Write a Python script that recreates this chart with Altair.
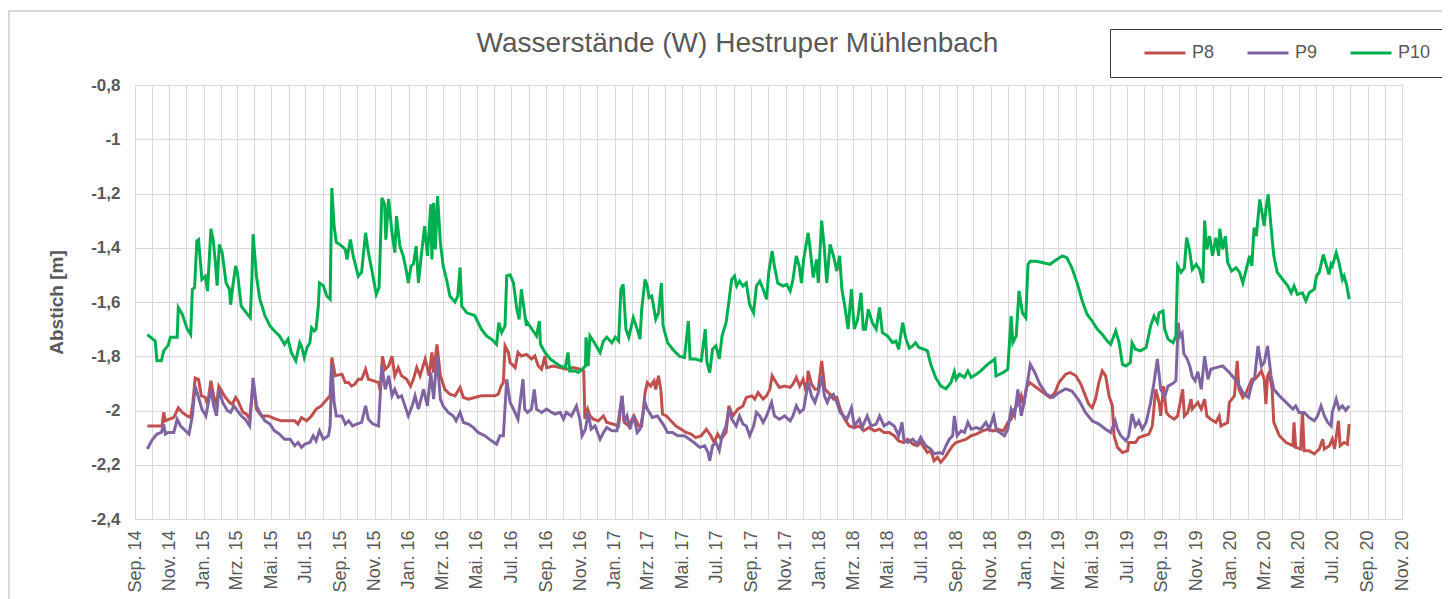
import altair as alt
import pandas as pd

FONT = "Liberation Sans"
GREY = "#595959"
GRID = "#D9D9D9"

series_names = ["P8", "P9", "P10"]
series_colors = ["#C0504D", "#8064A2", "#00B050"]

p8_dates = [
    "2014-09-23", "2014-10-19", "2014-10-22", "2014-10-25", "2014-11-03", "2014-11-09", "2014-11-17", "2014-11-24",
    "2014-12-03", "2014-12-09", "2014-12-13", "2014-12-17", "2014-12-23", "2014-12-28", "2015-01-04", "2015-01-08",
    "2015-01-14", "2015-01-19", "2015-01-24", "2015-01-28", "2015-02-07", "2015-02-16", "2015-02-21", "2015-02-27",
    "2015-03-03", "2015-03-12", "2015-03-18", "2015-03-24", "2015-03-30", "2015-04-05", "2015-04-14", "2015-04-26",
    "2015-05-07", "2015-05-19", "2015-05-31", "2015-06-12", "2015-06-18", "2015-06-24", "2015-07-03", "2015-07-12",
    "2015-07-20", "2015-07-29", "2015-08-11", "2015-08-14", "2015-08-17", "2015-08-23", "2015-09-04", "2015-09-10",
    "2015-09-16", "2015-09-21", "2015-09-27", "2015-10-03", "2015-10-09", "2015-10-16", "2015-10-21", "2015-10-29",
    "2015-11-08", "2015-11-11", "2015-11-15", "2015-11-20", "2015-11-26", "2015-12-02", "2015-12-07", "2015-12-13",
    "2015-12-19", "2015-12-28", "2016-01-04", "2016-01-09", "2016-01-15", "2016-01-21", "2016-01-30", "2016-02-06",
    "2016-02-11", "2016-02-14", "2016-02-20", "2016-02-26", "2016-03-05", "2016-03-14", "2016-03-23", "2016-04-01",
    "2016-04-07", "2016-04-16", "2016-04-27", "2016-05-09", "2016-05-21", "2016-06-02", "2016-06-08", "2016-06-13",
    "2016-06-17", "2016-06-20", "2016-06-26", "2016-06-29", "2016-07-08", "2016-07-13", "2016-07-19", "2016-07-28",
    "2016-08-06", "2016-08-12", "2016-08-18", "2016-08-24", "2016-08-30", "2016-09-02", "2016-09-14", "2016-09-26",
    "2016-10-07", "2016-10-19", "2016-10-31", "2016-11-07", "2016-11-09", "2016-11-14", "2016-11-18", "2016-11-24",
    "2016-12-03", "2016-12-12", "2016-12-18", "2016-12-29", "2017-01-08", "2017-01-14", "2017-01-18", "2017-01-26",
    "2017-02-04", "2017-02-13", "2017-02-18", "2017-02-24", "2017-02-28", "2017-03-06", "2017-03-12", "2017-03-15",
    "2017-03-20", "2017-03-24", "2017-03-27", "2017-04-03", "2017-04-11", "2017-04-20", "2017-04-29", "2017-05-08",
    "2017-05-17", "2017-05-25", "2017-06-04", "2017-06-13", "2017-06-21", "2017-06-27", "2017-07-03", "2017-07-09",
    "2017-07-18", "2017-07-23", "2017-07-30", "2017-08-08", "2017-08-17", "2017-08-23", "2017-09-02", "2017-09-07",
    "2017-09-13", "2017-09-22", "2017-09-28", "2017-10-04", "2017-10-08", "2017-10-15", "2017-10-21", "2017-10-30",
    "2017-11-09", "2017-11-14", "2017-11-20", "2017-11-26", "2017-12-02", "2017-12-08", "2017-12-11", "2017-12-17",
    "2017-12-23", "2017-12-29", "2018-01-04", "2018-01-10", "2018-01-16", "2018-01-25", "2018-01-31", "2018-02-06",
    "2018-02-14", "2018-02-22", "2018-03-03", "2018-03-12", "2018-03-20", "2018-03-29", "2018-04-08", "2018-04-17",
    "2018-04-25", "2018-05-04", "2018-05-13", "2018-05-21", "2018-05-30", "2018-06-06", "2018-06-15", "2018-06-23",
    "2018-06-29", "2018-07-05", "2018-07-11", "2018-07-17", "2018-07-23", "2018-07-29", "2018-08-04", "2018-08-13",
    "2018-08-19", "2018-08-25", "2018-08-31", "2018-09-09", "2018-09-18", "2018-09-27", "2018-10-06", "2018-10-17",
    "2018-10-26", "2018-11-05", "2018-11-14", "2018-11-23", "2018-11-28", "2018-12-01", "2018-12-07", "2018-12-13",
    "2018-12-21", "2018-12-25", "2018-12-29", "2019-01-03", "2019-01-09", "2019-01-21", "2019-02-02", "2019-02-14",
    "2019-02-23", "2019-03-02", "2019-03-14", "2019-03-22", "2019-04-01", "2019-04-10", "2019-04-18", "2019-04-24",
    "2019-04-30", "2019-05-06", "2019-05-12", "2019-05-18", "2019-05-24", "2019-05-30", "2019-06-05", "2019-06-08",
    "2019-06-14", "2019-06-23", "2019-07-02", "2019-07-04", "2019-07-16", "2019-07-22", "2019-07-31", "2019-08-09",
    "2019-08-15", "2019-08-21", "2019-08-27", "2019-08-30", "2019-09-04", "2019-09-09", "2019-09-14", "2019-09-23",
    "2019-09-29", "2019-10-08", "2019-10-11", "2019-10-17", "2019-10-23", "2019-10-25", "2019-11-04", "2019-11-10",
    "2019-11-16", "2019-11-20", "2019-11-27", "2019-12-06", "2019-12-12", "2019-12-15", "2019-12-27", "2019-12-30",
    "2020-01-08", "2020-01-13", "2020-01-16", "2020-01-23", "2020-01-29", "2020-02-08", "2020-02-13", "2020-02-19",
    "2020-02-25", "2020-03-01", "2020-03-04", "2020-03-07", "2020-03-10", "2020-03-15", "2020-03-18", "2020-03-28",
    "2020-04-09", "2020-04-21", "2020-04-23", "2020-04-26", "2020-05-05", "2020-05-08", "2020-05-11", "2020-05-20",
    "2020-05-29", "2020-06-07", "2020-06-13", "2020-06-16", "2020-06-25", "2020-06-30", "2020-07-04", "2020-07-11",
    "2020-07-14", "2020-07-21", "2020-07-27", "2020-07-30",
]
p8_values = [
    -2.057, -2.057, -2.007, -2.038, -2.030, -2.026, -1.990, -2.007,
    -2.020, -2.026, -1.970, -1.880, -1.886, -1.946, -1.952, -1.977,
    -1.890, -1.946, -1.983, -1.910, -1.946, -1.970, -1.977, -1.952,
    -1.964, -2.007, -2.013, -2.032, -1.900, -1.995, -2.020, -2.020,
    -2.030, -2.038, -2.038, -2.038, -2.050, -2.026, -2.038, -2.020,
    -1.995, -1.983, -1.952, -1.946, -1.805, -1.872, -1.866, -1.897,
    -1.897, -1.910, -1.903, -1.885, -1.885, -1.848, -1.885, -1.890,
    -1.897, -1.928, -1.800, -1.848, -1.836, -1.800, -1.872, -1.842,
    -1.872, -1.885, -1.910, -1.885, -1.842, -1.872, -1.810, -1.872,
    -1.786, -1.860, -1.756, -1.872, -1.922, -1.940, -1.946, -1.915,
    -1.952, -1.958, -1.952, -1.946, -1.946, -1.946, -1.940, -1.910,
    -1.897, -1.762, -1.786, -1.823, -1.842, -1.786, -1.799, -1.793,
    -1.810, -1.799, -1.835, -1.848, -1.799, -1.842, -1.836, -1.842,
    -1.848, -1.842, -1.848, -1.854, -2.030, -1.995, -2.020, -2.032,
    -2.038, -2.020, -2.044, -2.050, -2.057, -1.946, -2.044, -2.057,
    -2.020, -2.057, -2.057, -1.934, -1.897, -1.910, -1.891, -1.922,
    -1.872, -1.922, -2.013, -2.020, -2.038, -2.057, -2.069, -2.081,
    -2.087, -2.100, -2.093, -2.069, -2.093, -2.118, -2.087, -2.106,
    -2.081, -1.983, -2.020, -1.995, -1.983, -1.952, -1.946, -1.958,
    -1.934, -1.958, -1.946, -1.922, -1.872, -1.897, -1.915, -1.910,
    -1.915, -1.903, -1.878, -1.910, -1.885, -1.934, -1.854, -1.903,
    -1.922, -1.922, -1.817, -1.922, -1.934, -1.958, -1.952, -1.995,
    -2.032, -2.057, -2.063, -2.057, -2.075, -2.063, -2.075, -2.069,
    -2.081, -2.081, -2.093, -2.112, -2.118, -2.106, -2.124, -2.130,
    -2.118, -2.136, -2.155, -2.148, -2.185, -2.173, -2.191, -2.167,
    -2.148, -2.130, -2.118, -2.112, -2.106, -2.093, -2.087, -2.075,
    -2.069, -2.075, -2.069, -2.075, -2.057, -2.044, -2.032, -1.995,
    -1.970, -1.946, -1.983, -1.915, -1.897, -1.915, -1.934, -1.952,
    -1.934, -1.897, -1.866, -1.860, -1.872, -1.903, -1.946, -1.977,
    -1.990, -1.958, -1.897, -1.854, -1.872, -1.946, -1.983, -2.093,
    -2.136, -2.155, -2.148, -2.118, -2.118, -2.100, -2.093, -2.087,
    -2.057, -1.922, -1.970, -2.020, -1.910, -2.007, -2.020, -2.032,
    -2.020, -1.922, -2.020, -2.007, -1.958, -1.995, -1.970, -1.995,
    -1.958, -2.020, -2.032, -2.044, -2.020, -2.057, -2.044, -1.970,
    -1.946, -1.817, -1.922, -1.952, -1.934, -1.885, -1.885, -1.872,
    -1.854, -1.885, -1.977, -1.872, -1.860, -1.922, -2.044, -2.093,
    -2.118, -2.130, -2.044, -2.136, -2.142, -2.007, -2.148, -2.148,
    -2.160, -2.142, -2.106, -2.142, -2.130, -2.106, -2.142, -2.038,
    -2.130, -2.118, -2.124, -2.050,
]

p9_dates = [
    "2014-09-23", "2014-10-01", "2014-10-10", "2014-10-18", "2014-10-22", "2014-10-25", "2014-10-30", "2014-11-09",
    "2014-11-15", "2014-11-21", "2014-11-30", "2014-12-06", "2014-12-12", "2014-12-17", "2014-12-23", "2014-12-29",
    "2015-01-05", "2015-01-14", "2015-01-19", "2015-01-24", "2015-01-28", "2015-02-04", "2015-02-12", "2015-02-18",
    "2015-02-24", "2015-02-28", "2015-03-09", "2015-03-16", "2015-03-24", "2015-03-30", "2015-04-05", "2015-04-11",
    "2015-04-20", "2015-04-29", "2015-05-07", "2015-05-16", "2015-05-25", "2015-06-04", "2015-06-12", "2015-06-18",
    "2015-06-24", "2015-06-30", "2015-07-09", "2015-07-15", "2015-07-20", "2015-07-26", "2015-08-02", "2015-08-11",
    "2015-08-14", "2015-08-17", "2015-08-21", "2015-08-25", "2015-09-04", "2015-09-10", "2015-09-16", "2015-09-23",
    "2015-09-30", "2015-10-09", "2015-10-16", "2015-10-21", "2015-10-29", "2015-11-08", "2015-11-14", "2015-11-20",
    "2015-11-26", "2015-12-02", "2015-12-07", "2015-12-13", "2015-12-19", "2015-12-25", "2015-12-31", "2016-01-07",
    "2016-01-12", "2016-01-18", "2016-01-27", "2016-02-03", "2016-02-09", "2016-02-14", "2016-02-20", "2016-02-26",
    "2016-03-02", "2016-03-11", "2016-03-20", "2016-03-25", "2016-04-01", "2016-04-07", "2016-04-16", "2016-04-25",
    "2016-05-03", "2016-05-15", "2016-05-27", "2016-06-05", "2016-06-11", "2016-06-17", "2016-06-23", "2016-06-29",
    "2016-07-05", "2016-07-13", "2016-07-22", "2016-07-25", "2016-07-30", "2016-08-06", "2016-08-11", "2016-08-15",
    "2016-08-24", "2016-09-02", "2016-09-11", "2016-09-17", "2016-09-26", "2016-10-02", "2016-10-07", "2016-10-16",
    "2016-10-25", "2016-10-31", "2016-11-04", "2016-11-10", "2016-11-15", "2016-11-20", "2016-11-27", "2016-12-06",
    "2016-12-12", "2016-12-18", "2016-12-27", "2017-01-05", "2017-01-14", "2017-01-18", "2017-01-23", "2017-01-28",
    "2017-02-04", "2017-02-10", "2017-02-15", "2017-02-24", "2017-02-28", "2017-03-09", "2017-03-18", "2017-03-24",
    "2017-03-30", "2017-04-05", "2017-04-14", "2017-04-23", "2017-05-05", "2017-05-14", "2017-05-22", "2017-06-01",
    "2017-06-10", "2017-06-16", "2017-06-19", "2017-06-24", "2017-06-30", "2017-07-06", "2017-07-11", "2017-07-18",
    "2017-07-23", "2017-07-28", "2017-08-05", "2017-08-11", "2017-08-17", "2017-08-23", "2017-08-29", "2017-09-05",
    "2017-09-10", "2017-09-16", "2017-09-22", "2017-09-28", "2017-10-07", "2017-10-12", "2017-10-21", "2017-10-30",
    "2017-11-09", "2017-11-14", "2017-11-20", "2017-11-26", "2017-12-03", "2017-12-11", "2017-12-17", "2017-12-23",
    "2017-12-29", "2018-01-04", "2018-01-09", "2018-01-14", "2018-01-19", "2018-01-25", "2018-01-31", "2018-02-06",
    "2018-02-12", "2018-02-18", "2018-02-26", "2018-03-03", "2018-03-12", "2018-03-17", "2018-03-26", "2018-04-02",
    "2018-04-11", "2018-04-17", "2018-04-25", "2018-05-04", "2018-05-13", "2018-05-21", "2018-05-27", "2018-05-30",
    "2018-06-06", "2018-06-15", "2018-06-23", "2018-06-29", "2018-07-08", "2018-07-17", "2018-07-23", "2018-08-01",
    "2018-08-07", "2018-08-13", "2018-08-19", "2018-08-25", "2018-08-28", "2018-09-02", "2018-09-09", "2018-09-15",
    "2018-09-21", "2018-09-27", "2018-10-06", "2018-10-14", "2018-10-23", "2018-10-29", "2018-11-06", "2018-11-11",
    "2018-11-17", "2018-11-25", "2018-12-01", "2018-12-07", "2018-12-13", "2018-12-19", "2018-12-25", "2018-12-30",
    "2019-01-05", "2019-01-10", "2019-01-18", "2019-01-27", "2019-02-08", "2019-02-19", "2019-03-02", "2019-03-14",
    "2019-03-25", "2019-04-07", "2019-04-18", "2019-04-30", "2019-05-12", "2019-05-24", "2019-06-02", "2019-06-10",
    "2019-06-14", "2019-06-20", "2019-06-29", "2019-07-04", "2019-07-10", "2019-07-16", "2019-07-22", "2019-07-28",
    "2019-08-04", "2019-08-12", "2019-08-18", "2019-08-24", "2019-08-30", "2019-09-06", "2019-09-12", "2019-09-21",
    "2019-09-26", "2019-09-30", "2019-10-03", "2019-10-07", "2019-10-10", "2019-10-16", "2019-10-21", "2019-10-25",
    "2019-10-30", "2019-11-04", "2019-11-10", "2019-11-16", "2019-11-22", "2019-11-27", "2019-12-06", "2019-12-18",
    "2019-12-30", "2020-01-11", "2020-01-23", "2020-02-02", "2020-02-08", "2020-02-13", "2020-02-19", "2020-02-25",
    "2020-03-01", "2020-03-07", "2020-03-13", "2020-03-18", "2020-03-28", "2020-04-09", "2020-04-21", "2020-04-26",
    "2020-05-02", "2020-05-11", "2020-05-20", "2020-05-29", "2020-06-04", "2020-06-10", "2020-06-16", "2020-06-22",
    "2020-06-28", "2020-06-30", "2020-07-07", "2020-07-12", "2020-07-18", "2020-07-24", "2020-07-30",
]
p9_values = [
    -2.142, -2.110, -2.087, -2.081, -2.050, -2.087, -2.081, -2.081,
    -2.032, -2.057, -2.075, -2.087, -2.020, -1.910, -1.952, -1.995,
    -2.020, -1.922, -1.983, -2.020, -1.922, -1.970, -2.000, -2.007,
    -1.983, -1.995, -2.020, -2.032, -2.057, -1.880, -1.983, -2.007,
    -2.038, -2.050, -2.075, -2.087, -2.106, -2.106, -2.130, -2.118,
    -2.136, -2.124, -2.118, -2.093, -2.112, -2.075, -2.106, -2.093,
    -2.057, -1.830, -1.970, -2.020, -2.020, -2.050, -2.038, -2.057,
    -2.050, -2.044, -1.983, -2.032, -2.050, -2.057, -1.835, -1.922,
    -1.872, -1.946, -1.922, -1.952, -1.946, -1.983, -2.020, -1.983,
    -1.946, -1.995, -1.922, -1.983, -1.860, -1.958, -1.800, -1.958,
    -1.983, -2.007, -2.020, -2.038, -2.007, -2.044, -2.050, -2.063,
    -2.081, -2.093, -2.112, -2.124, -2.093, -2.093, -1.885, -1.970,
    -1.995, -2.032, -1.885, -1.995, -2.007, -1.995, -1.922, -1.995,
    -2.007, -1.995, -2.007, -2.013, -2.007, -2.032, -2.007, -2.020,
    -1.983, -2.032, -2.093, -2.069, -2.007, -2.069, -2.057, -2.106,
    -2.081, -2.063, -2.075, -2.075, -1.946, -2.044, -2.020, -2.069,
    -2.020, -2.081, -2.069, -1.970, -1.995, -2.026, -2.020, -2.038,
    -2.057, -2.081, -2.081, -2.093, -2.093, -2.106, -2.118, -2.136,
    -2.130, -2.155, -2.185, -2.130, -2.118, -2.148, -2.093, -2.057,
    -1.995, -2.032, -2.057, -2.020, -2.050, -2.057, -2.093, -2.057,
    -2.007, -2.020, -2.044, -2.020, -1.970, -2.020, -2.032, -2.020,
    -2.038, -2.020, -1.983, -2.007, -1.995, -1.897, -1.946, -1.970,
    -1.934, -1.872, -1.946, -1.970, -1.946, -1.940, -1.970, -2.007,
    -2.020, -2.032, -1.990, -2.057, -2.032, -2.063, -2.020, -2.057,
    -2.050, -2.020, -2.057, -2.044, -2.057, -2.093, -2.044, -2.106,
    -2.118, -2.106, -2.124, -2.099, -2.130, -2.142, -2.160, -2.155,
    -2.160, -2.130, -2.106, -2.093, -2.020, -2.093, -2.075, -2.081,
    -2.044, -2.069, -2.063, -2.069, -2.044, -2.069, -2.020, -2.075,
    -2.081, -2.093, -2.069, -1.995, -2.020, -1.922, -2.020, -1.970,
    -1.897, -1.830, -1.860, -1.903, -1.940, -1.952, -1.934, -1.920,
    -1.928, -1.964, -2.007, -2.038, -2.050, -2.069, -2.081, -2.038,
    -2.069, -2.093, -2.112, -2.093, -2.013, -2.057, -2.038, -2.069,
    -2.044, -1.970, -1.897, -1.810, -1.922, -1.950, -1.910, -1.900,
    -1.890, -1.677, -1.728, -1.715, -1.790, -1.810, -1.838, -1.875,
    -1.890, -1.857, -1.922, -1.800, -1.885, -1.848, -1.842, -1.836,
    -1.860, -1.890, -1.934, -1.952, -1.903, -1.878, -1.762, -1.836,
    -1.823, -1.762, -1.872, -1.922, -1.946, -1.970, -1.995, -1.983,
    -2.007, -2.007, -2.026, -2.038, -2.020, -1.983, -2.020, -2.044,
    -2.057, -2.007, -1.958, -1.995, -1.983, -2.000, -1.983,
]

p10_dates = [
    "2014-09-23", "2014-10-07", "2014-10-10", "2014-10-18", "2014-10-22", "2014-10-30", "2014-11-03", "2014-11-15",
    "2014-11-17", "2014-11-24", "2014-12-03", "2014-12-09", "2014-12-12", "2014-12-16", "2014-12-20", "2014-12-23",
    "2014-12-29", "2015-01-04", "2015-01-08", "2015-01-14", "2015-01-18", "2015-01-22", "2015-01-25", "2015-01-29",
    "2015-02-03", "2015-02-10", "2015-02-16", "2015-02-18", "2015-02-22", "2015-02-27", "2015-03-02", "2015-03-09",
    "2015-03-18", "2015-03-25", "2015-03-28", "2015-03-30", "2015-04-05", "2015-04-11", "2015-04-20", "2015-04-29",
    "2015-05-07", "2015-05-16", "2015-05-25", "2015-05-31", "2015-06-06", "2015-06-14", "2015-06-21", "2015-06-24",
    "2015-06-29", "2015-07-04", "2015-07-09", "2015-07-12", "2015-07-17", "2015-07-20", "2015-07-24", "2015-07-26",
    "2015-08-02", "2015-08-08", "2015-08-14", "2015-08-17", "2015-08-21", "2015-08-25", "2015-09-04", "2015-09-10",
    "2015-09-13", "2015-09-19", "2015-09-24", "2015-10-03", "2015-10-09", "2015-10-16", "2015-10-21", "2015-10-27",
    "2015-11-04", "2015-11-09", "2015-11-14", "2015-11-19", "2015-11-21", "2015-11-26", "2015-12-02", "2015-12-07",
    "2015-12-10", "2015-12-16", "2015-12-22", "2015-12-28", "2015-12-31", "2016-01-05", "2016-01-09", "2016-01-14",
    "2016-01-18", "2016-01-23", "2016-01-29", "2016-02-03", "2016-02-09", "2016-02-11", "2016-02-14", "2016-02-17",
    "2016-02-21", "2016-02-26", "2016-03-02", "2016-03-08", "2016-03-14", "2016-03-23", "2016-03-28", "2016-04-01",
    "2016-04-04", "2016-04-13", "2016-04-27", "2016-05-09", "2016-05-18", "2016-05-27", "2016-06-05", "2016-06-09",
    "2016-06-14", "2016-06-20", "2016-06-23", "2016-06-29", "2016-07-05", "2016-07-11", "2016-07-15", "2016-07-19",
    "2016-07-28", "2016-07-30", "2016-08-09", "2016-08-15", "2016-08-20", "2016-08-22", "2016-08-30", "2016-09-08",
    "2016-09-17", "2016-09-26", "2016-10-05", "2016-10-10", "2016-10-13", "2016-10-22", "2016-10-28", "2016-11-04",
    "2016-11-10", "2016-11-11", "2016-11-15", "2016-11-18", "2016-11-24", "2016-12-06", "2016-12-12", "2016-12-18",
    "2016-12-27", "2017-01-02", "2017-01-08", "2017-01-12", "2017-01-16", "2017-01-21", "2017-01-26", "2017-02-03",
    "2017-02-10", "2017-02-15", "2017-02-18", "2017-02-24", "2017-02-28", "2017-03-03", "2017-03-08", "2017-03-15",
    "2017-03-20", "2017-03-25", "2017-03-28", "2017-04-05", "2017-04-14", "2017-04-26", "2017-05-05", "2017-05-12",
    "2017-05-15", "2017-05-25", "2017-06-04", "2017-06-11", "2017-06-14", "2017-06-19", "2017-06-24", "2017-06-30",
    "2017-07-06", "2017-07-11", "2017-07-18", "2017-07-23", "2017-07-28", "2017-08-02", "2017-08-06", "2017-08-11",
    "2017-08-17", "2017-08-23", "2017-08-29", "2017-09-05", "2017-09-10", "2017-09-16", "2017-09-22", "2017-09-28",
    "2017-10-02", "2017-10-08", "2017-10-12", "2017-10-18", "2017-10-27", "2017-11-03", "2017-11-09", "2017-11-14",
    "2017-11-20", "2017-11-25", "2017-11-29", "2017-12-03", "2017-12-11", "2017-12-14", "2017-12-20", "2017-12-26",
    "2017-12-29", "2018-01-04", "2018-01-09", "2018-01-13", "2018-01-19", "2018-01-25", "2018-01-31", "2018-02-05",
    "2018-02-09", "2018-02-15", "2018-02-20", "2018-02-26", "2018-03-03", "2018-03-09", "2018-03-15", "2018-03-19",
    "2018-03-23", "2018-03-28", "2018-04-04", "2018-04-11", "2018-04-17", "2018-04-22", "2018-05-01", "2018-05-10",
    "2018-05-16", "2018-05-21", "2018-05-28", "2018-06-03", "2018-06-09", "2018-06-15", "2018-06-20", "2018-06-26",
    "2018-07-05", "2018-07-11", "2018-07-17", "2018-07-26", "2018-08-04", "2018-08-13", "2018-08-22", "2018-08-28",
    "2018-08-31", "2018-09-06", "2018-09-15", "2018-09-21", "2018-09-27", "2018-10-06", "2018-10-14", "2018-10-26",
    "2018-11-08", "2018-11-10", "2018-11-23", "2018-12-01", "2018-12-07", "2018-12-10", "2018-12-16", "2018-12-21",
    "2018-12-27", "2019-01-02", "2019-01-06", "2019-01-10", "2019-01-21", "2019-02-02", "2019-02-14", "2019-02-26",
    "2019-03-08", "2019-03-16", "2019-03-25", "2019-04-04", "2019-04-13", "2019-04-21", "2019-04-30", "2019-05-09",
    "2019-05-18", "2019-05-27", "2019-06-02", "2019-06-11", "2019-06-17", "2019-06-23", "2019-06-29", "2019-07-07",
    "2019-07-10", "2019-07-16", "2019-07-25", "2019-08-04", "2019-08-12", "2019-08-18", "2019-08-24", "2019-08-27",
    "2019-09-03", "2019-09-06", "2019-09-12", "2019-09-21", "2019-09-26", "2019-09-29", "2019-10-05", "2019-10-11",
    "2019-10-15", "2019-10-20", "2019-10-25", "2019-11-01", "2019-11-07", "2019-11-13", "2019-11-16", "2019-11-20",
    "2019-11-25", "2019-11-30", "2019-12-06", "2019-12-11", "2019-12-13", "2019-12-18", "2019-12-23", "2019-12-27",
    "2020-01-03", "2020-01-11", "2020-01-17", "2020-01-23", "2020-01-29", "2020-02-04", "2020-02-08", "2020-02-12",
    "2020-02-16", "2020-02-22", "2020-02-27", "2020-03-01", "2020-03-04", "2020-03-08", "2020-03-13", "2020-03-18",
    "2020-03-24", "2020-04-03", "2020-04-12", "2020-04-18", "2020-04-23", "2020-04-29", "2020-05-08", "2020-05-14",
    "2020-05-20", "2020-05-29", "2020-06-02", "2020-06-07", "2020-06-14", "2020-06-19", "2020-06-24", "2020-06-28",
    "2020-06-30", "2020-07-07", "2020-07-12", "2020-07-18", "2020-07-21", "2020-07-26", "2020-07-30",
]
p10_values = [
    -1.720, -1.744, -1.817, -1.817, -1.780, -1.760, -1.730, -1.730,
    -1.620, -1.645, -1.700, -1.720, -1.553, -1.547, -1.375, -1.370,
    -1.517, -1.505, -1.560, -1.330, -1.370, -1.455, -1.540, -1.388,
    -1.418, -1.530, -1.553, -1.610, -1.540, -1.467, -1.490, -1.615,
    -1.640, -1.658, -1.504, -1.350, -1.504, -1.590, -1.650, -1.688,
    -1.707, -1.725, -1.756, -1.737, -1.786, -1.817, -1.750, -1.762,
    -1.805, -1.768, -1.750, -1.695, -1.707, -1.700, -1.615, -1.530,
    -1.540, -1.578, -1.590, -1.180, -1.320, -1.380, -1.394, -1.406,
    -1.443, -1.370, -1.430, -1.505, -1.490, -1.345, -1.418, -1.480,
    -1.572, -1.547, -1.216, -1.240, -1.370, -1.220, -1.345, -1.418,
    -1.283, -1.394, -1.430, -1.490, -1.530, -1.467, -1.460, -1.394,
    -1.530, -1.430, -1.320, -1.430, -1.240, -1.443, -1.234, -1.406,
    -1.210, -1.380, -1.467, -1.517, -1.578, -1.600, -1.578, -1.473,
    -1.615, -1.640, -1.650, -1.700, -1.725, -1.737, -1.756, -1.676,
    -1.713, -1.688, -1.504, -1.500, -1.530, -1.627, -1.664, -1.553,
    -1.688, -1.676, -1.707, -1.725, -1.670, -1.756, -1.786, -1.810,
    -1.823, -1.836, -1.842, -1.786, -1.854, -1.854, -1.860, -1.848,
    -1.836, -1.730, -1.836, -1.725, -1.744, -1.786, -1.744, -1.730,
    -1.750, -1.730, -1.744, -1.553, -1.535, -1.700, -1.730, -1.658,
    -1.700, -1.737, -1.627, -1.517, -1.541, -1.584, -1.578, -1.664,
    -1.640, -1.530, -1.688, -1.750, -1.774, -1.800, -1.805, -1.670,
    -1.810, -1.810, -1.817, -1.700, -1.823, -1.860, -1.774, -1.762,
    -1.810, -1.725, -1.676, -1.600, -1.517, -1.504, -1.541, -1.523,
    -1.541, -1.530, -1.610, -1.640, -1.541, -1.523, -1.553, -1.590,
    -1.490, -1.412, -1.467, -1.530, -1.541, -1.535, -1.560, -1.517,
    -1.430, -1.467, -1.530, -1.443, -1.345, -1.394, -1.510, -1.443,
    -1.530, -1.300, -1.406, -1.530, -1.388, -1.430, -1.486, -1.430,
    -1.553, -1.627, -1.700, -1.553, -1.700, -1.664, -1.566, -1.700,
    -1.700, -1.627, -1.676, -1.700, -1.620, -1.713, -1.725, -1.750,
    -1.744, -1.774, -1.676, -1.737, -1.770, -1.762, -1.750, -1.768,
    -1.774, -1.780, -1.830, -1.880, -1.910, -1.920, -1.897, -1.857,
    -1.885, -1.866, -1.878, -1.854, -1.878, -1.866, -1.854, -1.830,
    -1.810, -1.873, -1.860, -1.848, -1.652, -1.750, -1.725, -1.559,
    -1.640, -1.658, -1.461, -1.450, -1.450, -1.455, -1.461, -1.443,
    -1.430, -1.437, -1.474, -1.535, -1.600, -1.645, -1.670, -1.700,
    -1.719, -1.744, -1.756, -1.707, -1.750, -1.830, -1.836, -1.823,
    -1.750, -1.774, -1.780, -1.768, -1.688, -1.652, -1.676, -1.640,
    -1.633, -1.700, -1.737, -1.750, -1.725, -1.467, -1.490, -1.474,
    -1.363, -1.406, -1.480, -1.461, -1.480, -1.530, -1.300, -1.406,
    -1.357, -1.430, -1.363, -1.430, -1.330, -1.406, -1.357, -1.455,
    -1.486, -1.474, -1.490, -1.530, -1.480, -1.430, -1.467, -1.326,
    -1.357, -1.222, -1.283, -1.320, -1.259, -1.203, -1.320, -1.430,
    -1.490, -1.517, -1.541, -1.566, -1.541, -1.572, -1.566, -1.596,
    -1.566, -1.553, -1.504, -1.490, -1.425, -1.461, -1.498, -1.461,
    -1.467, -1.418, -1.455, -1.517, -1.504, -1.541, -1.590,
]

month_names = ["Jan.", "Feb.", "Mrz.", "Apr.", "Mai.", "Jun.", "Jul.", "Aug.", "Sep.", "Okt.", "Nov.", "Dez."]
y_ticks = [-2.4, -2.2, -2.0, -1.8, -1.6, -1.4, -1.2, -1.0, -0.8]

frames = []
for name, d, v in [("P8", p8_dates, p8_values), ("P9", p9_dates, p9_values), ("P10", p10_dates, p10_values)]:
    frames.append(pd.DataFrame({"Datum": d, "Abstich": v, "Messstelle": name}))
data = pd.concat(frames, ignore_index=True)

# monthly gridline positions (Sep 2014 .. Nov 2020)
month_ticks = []
y, m = 2014, 9
while (y, m) <= (2020, 11):
    month_ticks.append(alt.DateTime(year=y, month=m, date=1, utc=True))
    m += 1
    if m > 12:
        m = 1
        y += 1

names_js = "[" + ",".join("'" + n + "'" for n in month_names) + "]"
x_label_expr = (
    "utcmonth(datum.value) % 2 == 0 ? " + names_js +
    "[utcmonth(datum.value)] + ' ' + utcFormat(datum.value, '%y') : ''"
)

x_enc = alt.X(
    "Datum:T",
    scale=alt.Scale(
        type="utc",
        domain=[alt.DateTime(year=2014, month=9, date=1, utc=True),
                alt.DateTime(year=2020, month=11, date=1, utc=True)],
        nice=False,
    ),
    axis=alt.Axis(
        title=None,
        values=month_ticks,
        labelExpr=x_label_expr,
        labelAngle=-90,
        labelFontSize=18,
        labelFont=FONT,
        labelColor=GREY,
        labelPadding=11,
        labelOverlap=False,
        labelFlush=False,
        labelBound=False,
        tickSize=0,
        grid=True,
        gridColor=GRID,
        gridWidth=1,
        domainColor=GRID,
        domainWidth=1,
    ),
)

y_enc = alt.Y(
    "Abstich:Q",
    scale=alt.Scale(domain=[-2.4, -0.8], nice=False, zero=False),
    axis=alt.Axis(
        title="Abstich [m]",
        titleFontSize=19,
        titleFont=FONT,
        titleFontWeight="bold",
        titleColor=GREY,
        titlePadding=24,
        values=y_ticks,
        labelExpr="replace('' + datum.value, '.', ',')",
        labelFontSize=17,
        labelFont=FONT,
        labelFontWeight="bold",
        labelColor=GREY,
        labelPadding=15,
        tickSize=0,
        domain=False,
        grid=True,
        gridColor=GRID,
        gridWidth=1,
    ),
)

lines = alt.Chart(data).mark_line(strokeWidth=3, interpolate="linear").encode(
    x=x_enc,
    y=y_enc,
    color=alt.Color(
        "Messstelle:N",
        scale=alt.Scale(domain=series_names, range=series_colors),
        sort=series_names,
        legend=alt.Legend(
            title=None,
            orient="none",
            legendX=975,
            legendY=-56,
            direction="horizontal",
            symbolType="stroke",
            symbolSize=1681,
            symbolStrokeWidth=3,
            labelFontSize=18,
            labelFont=FONT,
            labelColor=GREY,
            labelOffset=5,
            symbolOffset=18,
            columnPadding=13,
            clipHeight=18,
            padding=15,
            strokeColor="#3A3A3A",
            fillColor="white",
        ),
    ),
    order=alt.Order("Datum:T"),
)

frame_rect = alt.Chart(pd.DataFrame({"k": [0]})).mark_rect(
    fillOpacity=0, stroke="#D9D9D9", strokeWidth=2
).encode(
    x=alt.value(-126), x2=alt.value(1340), y=alt.value(-74), y2=alt.value(560)
)

chart = alt.layer(frame_rect, lines).properties(
    width=1267,
    height=434,
    autosize=alt.AutoSizeParams(type="none"),
    padding={"left": 127, "top": 77, "right": 40, "bottom": 80},
    title=alt.TitleParams(
        text="Wasserstände (W) Hestruper Mühlenbach",
        fontSize=28,
        font=FONT,
        fontWeight="normal",
        color=GREY,
        anchor="middle",
        frame="group",
        offset=-48,
        dx=-31,
    ),
).configure_view(strokeWidth=0).configure(background="white")

chart.save("out.html", embed_options={"renderer": "svg", "actions": False})
